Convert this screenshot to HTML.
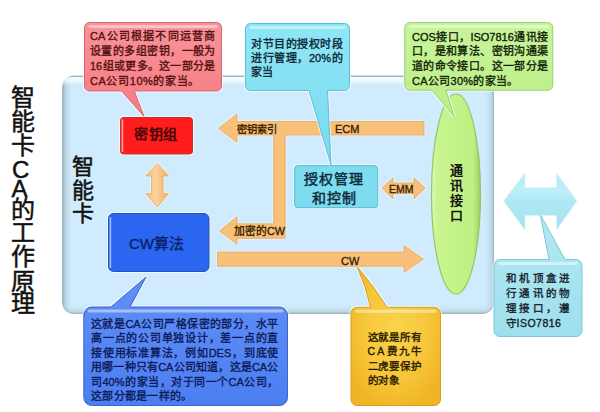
<!DOCTYPE html>
<html lang="zh-CN">
<head>
<meta charset="utf-8">
<style>
html,body{margin:0;padding:0;background:#fff;}
body{width:600px;height:412px;position:relative;overflow:hidden;font-family:"Liberation Sans",sans-serif;}
svg{position:absolute;left:0;top:0;}
.t{position:absolute;white-space:nowrap;line-height:1;}
.tc{position:absolute;font-size:24px;line-height:24px;color:#111;-webkit-text-stroke:0.5px #111;}
.ic{position:absolute;font-size:22px;line-height:22px;color:#111;-webkit-text-stroke:0.5px #111;}
.al{color:#3a1e00;-webkit-text-stroke:0.35px #3a1e00;}
.bt{position:absolute;white-space:nowrap;-webkit-text-stroke:0.35px currentColor;}
.jl{display:flex;justify-content:space-between;}
.nl{display:block;}
</style>
</head>
<body>
<svg width="600" height="412" viewBox="0 0 600 412">

<defs>
  <linearGradient id="gPanel" x1="0" y1="0" x2="0" y2="1">
    <stop offset="0" stop-color="#d4ecf9"/>
    <stop offset="1" stop-color="#cbe7f8"/>
  </linearGradient>
  <linearGradient id="gPink" x1="0" y1="0" x2="0" y2="1">
    <stop offset="0" stop-color="#f8949a"/>
    <stop offset="1" stop-color="#f47c82"/>
  </linearGradient>
  <linearGradient id="gCyan" x1="0" y1="0" x2="0" y2="1">
    <stop offset="0" stop-color="#90e6f6"/>
    <stop offset="1" stop-color="#78daee"/>
  </linearGradient>
  <linearGradient id="gGreen" x1="0" y1="0" x2="0" y2="1">
    <stop offset="0" stop-color="#c8f49c"/>
    <stop offset="1" stop-color="#bcee86"/>
  </linearGradient>
  <linearGradient id="gBlue" x1="0" y1="0" x2="0" y2="1">
    <stop offset="0" stop-color="#6290f6"/>
    <stop offset="1" stop-color="#4c7ef0"/>
  </linearGradient>
  <radialGradient id="gYellow" cx="0.5" cy="0.45" r="0.6">
    <stop offset="0" stop-color="#fad34c"/>
    <stop offset="0.6" stop-color="#f7c63a"/>
    <stop offset="1" stop-color="#f0b424"/>
  </radialGradient>
  <linearGradient id="gLCyan" x1="0" y1="0" x2="0" y2="1">
    <stop offset="0" stop-color="#b2e9f3"/>
    <stop offset="1" stop-color="#9fdfed"/>
  </linearGradient>
  <linearGradient id="gEll" x1="0" y1="0" x2="1" y2="0">
    <stop offset="0" stop-color="#dcfab8"/>
    <stop offset="0.12" stop-color="#c8f590"/>
    <stop offset="0.85" stop-color="#bff082"/>
    <stop offset="1" stop-color="#a2cc64"/>
  </linearGradient>
  <linearGradient id="gPL" x1="0" y1="0" x2="1" y2="0">
    <stop offset="0" stop-color="#9fb5c0" stop-opacity="0.8"/>
    <stop offset="1" stop-color="#cde8f8" stop-opacity="0"/>
  </linearGradient>
  <linearGradient id="gPR" x1="0" y1="0" x2="1" y2="0">
    <stop offset="0" stop-color="#cde8f8" stop-opacity="0"/>
    <stop offset="1" stop-color="#9fb5c0" stop-opacity="0.55"/>
  </linearGradient>
  <linearGradient id="gPT" x1="0" y1="0" x2="0" y2="1">
    <stop offset="0" stop-color="#ffffff" stop-opacity="0.9"/>
    <stop offset="0.5" stop-color="#f4fcff" stop-opacity="0.7"/>
    <stop offset="1" stop-color="#cde8f8" stop-opacity="0"/>
  </linearGradient>
  <linearGradient id="gPB" x1="0" y1="0" x2="0" y2="1">
    <stop offset="0" stop-color="#cde8f8" stop-opacity="0"/>
    <stop offset="1" stop-color="#a8bfcc" stop-opacity="0.6"/>
  </linearGradient>
  <linearGradient id="gArrH" gradientUnits="userSpaceOnUse" x1="0" y1="0" x2="0" y2="14">
    <stop offset="0" stop-color="#f7b96c"/>
    <stop offset="0.2" stop-color="#fac98c"/>
    <stop offset="0.45" stop-color="#f9c07a"/>
    <stop offset="1" stop-color="#f7b86a"/>
  </linearGradient>
  <linearGradient id="gDA" x1="0" y1="0" x2="0" y2="1">
    <stop offset="0" stop-color="#b6ecf6"/>
    <stop offset="0.3" stop-color="#bdeff8"/>
    <stop offset="0.5" stop-color="#aee8f4"/>
    <stop offset="1" stop-color="#a4e2f0"/>
  </linearGradient>
  <linearGradient id="gArrV" x1="0" y1="0" x2="1" y2="0">
    <stop offset="0" stop-color="#f7b86a"/>
    <stop offset="0.4" stop-color="#fbd3a0"/>
    <stop offset="1" stop-color="#f5b060"/>
  </linearGradient>
</defs>

<clipPath id="cpPanel"><rect x="62" y="75.5" width="432" height="238.5" rx="12"/></clipPath>
<rect x="62.7" y="76.2" width="430.6" height="237.1" rx="11.5" fill="#cfebfd" stroke="#a3b6be" stroke-width="1.4"/>
<g clip-path="url(#cpPanel)"><rect x="63" y="76" width="10" height="238" fill="url(#gPL)"/><rect x="482" y="76" width="12" height="238" fill="url(#gPR)"/><rect x="62" y="77.2" width="432" height="9" fill="url(#gPT)"/><rect x="62" y="304" width="432" height="9" fill="url(#gPB)"/></g>
<path d="M218.5,128.3 L237,114 L237,121.5 L424,121.5 L424,135 L285.2,135 L285.2,238.3 L237,238.3 L237,244.3 L219.3,231 L237,216.7 L237,223.8 L273.7,223.8 L273.7,135 L237,135 L237,142.6 Z" fill="none" stroke="#fff" stroke-opacity="0.55" stroke-width="2.6" stroke-linejoin="round"/>
<path d="M218.5,128.3 L237,114 L237,121.5 L424,121.5 L424,135 L285.2,135 L285.2,238.3 L237,238.3 L237,244.3 L219.3,231 L237,216.7 L237,223.8 L273.7,223.8 L273.7,135 L237,135 L237,142.6 Z" fill="#f9c07a" stroke="#e2a862" stroke-width="0.8" stroke-linejoin="round"/>
<path d="M217.5,252 L404,252 L404,245.4 L423.6,259.2 L404,272.6 L404,266.3 L217.5,266.3 Z" fill="none" stroke="#fff" stroke-opacity="0.55" stroke-width="2.6" stroke-linejoin="round"/>
<path d="M217.5,252 L404,252 L404,245.4 L423.6,259.2 L404,272.6 L404,266.3 L217.5,266.3 Z" fill="#f9c07a" stroke="#e2a862" stroke-width="0.8" stroke-linejoin="round"/>
<path d="M382,188.3 L393,177.7 L393,183 L414,183 L414,177.7 L425.3,188.3 L414,199 L414,193.7 L393,193.7 L393,199 Z" fill="none" stroke="#fff" stroke-opacity="0.55" stroke-width="2.6" stroke-linejoin="round"/>
<path d="M382,188.3 L393,177.7 L393,183 L414,183 L414,177.7 L425.3,188.3 L414,199 L414,193.7 L393,193.7 L393,199 Z" fill="#f9c07a" stroke="#e2a862" stroke-width="0.8" stroke-linejoin="round"/>
<path d="M157.3,163.4 L168.7,176 L163,176 L163,193.4 L168.7,193.4 L157.3,207 L145.8,193.4 L151.6,193.4 L151.6,176 L145.8,176 Z" fill="none" stroke="#fff" stroke-opacity="0.55" stroke-width="2.6" stroke-linejoin="round"/>
<path d="M157.3,163.4 L168.7,176 L163,176 L163,193.4 L168.7,193.4 L157.3,207 L145.8,193.4 L151.6,193.4 L151.6,176 L145.8,176 Z" fill="url(#gArrV)" stroke="#e2a862" stroke-width="0.8" stroke-linejoin="round"/>
<rect x="120.5" y="117.5" width="72" height="36.5" rx="3" fill="none" stroke="#fff" stroke-opacity="0.7" stroke-width="3"/>
<rect x="120.5" y="117.5" width="72" height="36.5" rx="3" fill="#ff1c1c" stroke="#c83030" stroke-width="1"/>
<rect x="121.6" y="119.5" width="1.6" height="32.5" fill="#ffb0b0" opacity="0.9"/>
<rect x="108.5" y="213.5" width="100.5" height="58" rx="5" fill="none" stroke="#fff" stroke-opacity="0.7" stroke-width="3"/>
<rect x="108.5" y="213.5" width="100.5" height="58" rx="5" fill="#2a66f0" stroke="#2452c0" stroke-width="1"/>
<rect x="109.6" y="217" width="1.6" height="51" fill="#a8c4f8" opacity="0.9"/>
<rect x="294.7" y="165.7" width="83" height="42" rx="3" fill="none" stroke="#fff" stroke-opacity="0.6" stroke-width="3"/>
<rect x="294.7" y="165.7" width="83" height="42" rx="3" fill="#7edcf0" stroke="#58b8cc" stroke-width="1"/>
<ellipse cx="456" cy="194" rx="24.5" ry="100" fill="url(#gEll)" stroke="#98c466" stroke-width="1.2"/>
<polygon points="503.5,201 525,173 525,187.6 556.5,187.6 556.5,173 577,201 556.5,230 556.5,215.5 525,215.5 525,230" fill="url(#gDA)" stroke="#d8f4fa" stroke-width="0.8"/>
<path d="M89.5,22.5 H216.5 A5,5 0 0 1 221.5,27.5 V86 A5,5 0 0 1 216.5,91 H134.3 L144,116.5 L121.6,91 H89.5 A5,5 0 0 1 84.5,86 V27.5 A5,5 0 0 1 89.5,22.5 Z" fill="none" stroke="#fff" stroke-opacity="0.7" stroke-width="3"/><path d="M89.5,22.5 H216.5 A5,5 0 0 1 221.5,27.5 V86 A5,5 0 0 1 216.5,91 H134.3 L144,116.5 L121.6,91 H89.5 A5,5 0 0 1 84.5,86 V27.5 A5,5 0 0 1 89.5,22.5 Z" fill="url(#gPink)" stroke="#d86868" stroke-width="1"/><rect x="88.5" y="25.0" width="129.0" height="3" rx="1.5" fill="#fff" opacity="0.45"/>
<path d="M250.5,23.5 H344.5 A5,5 0 0 1 349.5,28.5 V85.5 A5,5 0 0 1 344.5,90.5 H327.5 L331,165 L309,90.5 H250.5 A5,5 0 0 1 245.5,85.5 V28.5 A5,5 0 0 1 250.5,23.5 Z" fill="none" stroke="#fff" stroke-opacity="0.7" stroke-width="3"/><path d="M250.5,23.5 H344.5 A5,5 0 0 1 349.5,28.5 V85.5 A5,5 0 0 1 344.5,90.5 H327.5 L331,165 L309,90.5 H250.5 A5,5 0 0 1 245.5,85.5 V28.5 A5,5 0 0 1 250.5,23.5 Z" fill="url(#gCyan)" stroke="#58c0d8" stroke-width="1"/><rect x="249.5" y="26.0" width="96.0" height="3" rx="1.5" fill="#fff" opacity="0.45"/>
<path d="M409.8,22.6 H547.8 A5,5 0 0 1 552.8,27.6 V85.2 A5,5 0 0 1 547.8,90.2 H446 L454,116.5 L432,90.2 H409.8 A5,5 0 0 1 404.8,85.2 V27.6 A5,5 0 0 1 409.8,22.6 Z" fill="none" stroke="#fff" stroke-opacity="0.7" stroke-width="3"/><path d="M409.8,22.6 H547.8 A5,5 0 0 1 552.8,27.6 V85.2 A5,5 0 0 1 547.8,90.2 H446 L454,116.5 L432,90.2 H409.8 A5,5 0 0 1 404.8,85.2 V27.6 A5,5 0 0 1 409.8,22.6 Z" fill="url(#gGreen)" stroke="#98d070" stroke-width="1"/><rect x="408.8" y="25.1" width="139.99999999999994" height="3" rx="1.5" fill="#fff" opacity="0.45"/>
<path d="M500,259.5 H549 Q544.65,237.0 540.3,214.5 Q552.65,237.0 565,259.5 H576 A6,6 0 0 1 582,265.5 V330.5 A6,6 0 0 1 576,336.5 H500 A6,6 0 0 1 494,330.5 V265.5 A6,6 0 0 1 500,259.5 Z" fill="none" stroke="#fff" stroke-opacity="0.7" stroke-width="3"/><path d="M500,259.5 H549 Q544.65,237.0 540.3,214.5 Q552.65,237.0 565,259.5 H576 A6,6 0 0 1 582,265.5 V330.5 A6,6 0 0 1 576,336.5 H500 A6,6 0 0 1 494,330.5 V265.5 A6,6 0 0 1 500,259.5 Z" fill="url(#gLCyan)" stroke="#7cc8da" stroke-width="1"/><rect x="498" y="262.0" width="80" height="3" rx="1.5" fill="#fff" opacity="0.45"/>
<path d="M91.8,307 H111 Q128.5,292.0 146,277 Q138.0,292.0 130,307 H279.5 A8,8 0 0 1 287.5,315 V397.5 A8,8 0 0 1 279.5,405.5 H91.8 A8,8 0 0 1 83.8,397.5 V315 A8,8 0 0 1 91.8,307 Z" fill="none" stroke="#fff" stroke-opacity="0.7" stroke-width="3"/><path d="M91.8,307 H111 Q128.5,292.0 146,277 Q138.0,292.0 130,307 H279.5 A8,8 0 0 1 287.5,315 V397.5 A8,8 0 0 1 279.5,405.5 H91.8 A8,8 0 0 1 83.8,397.5 V315 A8,8 0 0 1 91.8,307 Z" fill="url(#gBlue)" stroke="#3a64d0" stroke-width="1"/><rect x="87.8" y="309.5" width="195.7" height="3" rx="1.5" fill="#fff" opacity="0.45"/>
<path d="M357,307.3 H370.5 Q366.25,286.9 357,266.5 Q374.5,286.9 387,307.3 H434.5 A6,6 0 0 1 440.5,313.3 V399.5 A6,6 0 0 1 434.5,405.5 H357 A6,6 0 0 1 351,399.5 V313.3 A6,6 0 0 1 357,307.3 Z" fill="none" stroke="#fff" stroke-opacity="0.7" stroke-width="3"/><path d="M357,307.3 H370.5 Q366.25,286.9 357,266.5 Q374.5,286.9 387,307.3 H434.5 A6,6 0 0 1 440.5,313.3 V399.5 A6,6 0 0 1 434.5,405.5 H357 A6,6 0 0 1 351,399.5 V313.3 A6,6 0 0 1 357,307.3 Z" fill="url(#gYellow)" stroke="#d8a020" stroke-width="1"/><rect x="355" y="309.8" width="81.5" height="3" rx="1.5" fill="#fff" opacity="0.45"/>
</svg>
<div class="tc" style="left:11px;top:86px">智</div>
<div class="tc" style="left:11px;top:110px">能</div>
<div class="tc" style="left:11px;top:134px">卡</div>
<div class="tc" style="left:12px;top:158px">C</div>
<div class="tc" style="left:11.5px;top:177px">A</div>
<div class="tc" style="left:11px;top:198px">的</div>
<div class="tc" style="left:11px;top:221px">工</div>
<div class="tc" style="left:11px;top:245px">作</div>
<div class="tc" style="left:11px;top:270px">原</div>
<div class="tc" style="left:11px;top:292px">理</div>
<div class="ic" style="left:72px;top:156px">智</div>
<div class="ic" style="left:72px;top:179.5px">能</div>
<div class="ic" style="left:72px;top:203px">卡</div>

<div class="t" style="left:134px;top:127px;font-size:14px;letter-spacing:0.6px;color:#4a0606;font-weight:bold">密钥组</div>
<div class="t" style="left:129px;top:236px;font-size:15px;color:#0b1f66;-webkit-text-stroke:0.35px #0b1f66">CW算法</div>
<div class="t" style="left:302px;top:170.3px;font-size:14px;line-height:18.6px;letter-spacing:1px;color:#0e2a3a;text-align:center;white-space:normal;width:64px;-webkit-text-stroke:0.45px #0e2a3a">授权管理<br>和控制</div>
<div class="t" style="left:449.5px;top:163px;font-size:13px;line-height:15px;width:14px;color:#111;white-space:normal;font-weight:bold">通讯接口</div>
<div class="t al" style="left:237px;top:124.5px;font-size:10.3px;">密钥索引</div>
<div class="t al" style="left:335px;top:123.5px;font-size:11px;">ECM</div>
<div class="t al" style="left:234px;top:225.7px;font-size:10.8px;">加密的CW</div>
<div class="t al" style="left:341px;top:256px;font-size:11px;">CW</div>
<div class="t al" style="left:389px;top:184px;font-size:10.5px;">EMM</div>

<div class="bt" style="left:90px;top:28.6px;width:125.5px;font-size:11px;line-height:15px;color:#561010;"><div class="jl"><span>CA</span><span>公</span><span>司</span><span>根</span><span>据</span><span>不</span><span>同</span><span>运</span><span>营</span><span>商</span></div><div class="jl"><span>设</span><span>置</span><span>的</span><span>多</span><span>组</span><span>密</span><span>钥</span><span>，</span><span>一</span><span>般</span><span>为</span></div><div class="jl"><span>16</span><span>组</span><span>或</span><span>更</span><span>多</span><span>。</span><span>这</span><span>一</span><span>部</span><span>分</span><span>是</span></div><div class="nl" style="letter-spacing:0.6px">CA公司10%的家当。</div></div>
<div class="bt" style="left:251px;top:36.5px;width:91.5px;font-size:11px;line-height:14.2px;color:#0a2634;"><div class="jl"><span>对</span><span>节</span><span>目</span><span>的</span><span>授</span><span>权</span><span>时</span><span>段</span></div><div class="jl"><span>进</span><span>行</span><span>管</span><span>理</span><span>，</span><span>20%</span><span>的</span></div><div class="nl" style="letter-spacing:0px">家当</div></div>
<div class="bt" style="left:412px;top:29.6px;width:136px;font-size:11px;line-height:14.8px;color:#132206;"><div class="jl"><span>COS</span><span>接</span><span>口</span><span>，</span><span>ISO7816</span><span>通</span><span>讯</span><span>接</span></div><div class="jl"><span>口</span><span>，</span><span>是</span><span>和</span><span>算</span><span>法</span><span>、</span><span>密</span><span>钥</span><span>沟</span><span>通</span><span>渠</span></div><div class="jl"><span>道</span><span>的</span><span>命</span><span>令</span><span>接</span><span>口</span><span>。</span><span>这</span><span>一</span><span>部</span><span>分</span><span>是</span></div><div class="nl" style="letter-spacing:0.3px">CA公司30%的家当。</div></div>
<div class="bt" style="left:506px;top:270.8px;width:63px;font-size:10.5px;line-height:15px;color:#142228;"><div class="jl"><span>和</span><span>机</span><span>顶</span><span>盒</span><span>进</span></div><div class="jl"><span>行</span><span>通</span><span>讯</span><span>的</span><span>物</span></div><div class="jl"><span>理</span><span>接</span><span>口</span><span>，</span><span>遵</span></div><div class="nl" style="letter-spacing:0.5px">守ISO7816</div></div>
<div class="bt" style="left:91px;top:316.8px;width:187.5px;font-size:11px;line-height:14.5px;color:#0c1a58;"><div class="jl"><span>这</span><span>就</span><span>是</span><span>CA</span><span>公</span><span>司</span><span>严</span><span>格</span><span>保</span><span>密</span><span>的</span><span>部</span><span>分</span><span>，</span><span>水</span><span>平</span></div><div class="jl"><span>高</span><span>一</span><span>点</span><span>的</span><span>公</span><span>司</span><span>单</span><span>独</span><span>设</span><span>计</span><span>，</span><span>差</span><span>一</span><span>点</span><span>的</span><span>直</span></div><div class="jl"><span>接</span><span>使</span><span>用</span><span>标</span><span>准</span><span>算</span><span>法</span><span>，</span><span>例</span><span>如</span><span>DES</span><span>，</span><span>到</span><span>底</span><span>使</span></div><div class="jl"><span>用</span><span>哪</span><span>一</span><span>种</span><span>只</span><span>有</span><span>CA</span><span>公</span><span>司</span><span>知</span><span>道</span><span>，</span><span>这</span><span>是</span><span>CA</span><span>公</span></div><div class="jl"><span>司</span><span>40%</span><span>的</span><span>家</span><span>当</span><span>，</span><span>对</span><span>于</span><span>同</span><span>一</span><span>个</span><span>CA</span><span>公</span><span>司</span><span>，</span></div><div class="nl" style="letter-spacing:0.3px">这部分都是一样的。</div></div>
<div class="bt" style="left:367.5px;top:329.5px;width:53.5px;font-size:10.5px;line-height:14.6px;color:#2a1c00;-webkit-text-stroke:0.4px #2a1c00"><div class="jl"><span>这</span><span>就</span><span>是</span><span>所</span><span>有</span></div><div class="jl"><span>C</span><span>A</span><span>费</span><span>九</span><span>牛</span></div><div class="jl"><span>二</span><span>虎</span><span>要</span><span>保</span><span>护</span></div><div class="nl" style="letter-spacing:0.5px">的对象</div></div>
</body>
</html>
